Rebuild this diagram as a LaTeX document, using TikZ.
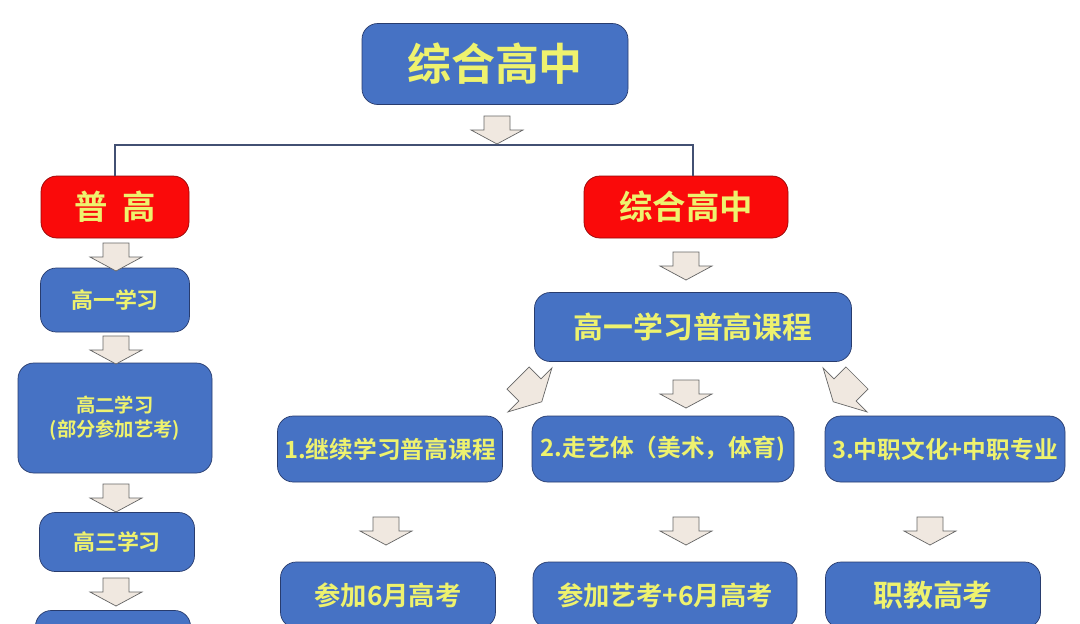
\documentclass[tikz,border=0pt]{standalone}
\usepackage{fontspec}
\newfontfamily\cjk{Noto Sans CJK SC}[BoldFont={* Bold}]
\usetikzlibrary{positioning}
\definecolor{boxblue}{RGB}{70,114,196}
\definecolor{boxline}{RGB}{40,60,110}
\definecolor{boxred}{RGB}{250,10,10}
\definecolor{txtyel}{RGB}{238,242,110}
\definecolor{arrfill}{RGB}{240,232,224}
\newcommand{\blockarrow}[4][1]{%
  \begin{scope}[shift={(#2,#3)},rotate=#4,scale=#1]
    \draw[gray!80!black,fill=arrfill] (-13,0) -- (13,0) -- (13,14) -- (26,14) -- (0,28) -- (-26,14) -- (-13,14) -- cycle;
  \end{scope}}
\tikzset{
  bluebox/.style={draw=boxline,fill=boxblue,rounded corners=9pt,text=txtyel,font=\cjk\bfseries,align=center,inner sep=0pt},
  redbox/.style={bluebox,fill=boxred,draw=boxred!60!black},
}
\begin{document}
\begin{tikzpicture}[x=0.02cm,y=-0.02cm]
\useasboundingbox (0,0) rectangle (1080,623);
\clip (0,0) rectangle (1080,623);
\fill[white] (0,0) rectangle (1080,623);

\node[bluebox,minimum width=266*0.02cm,minimum height=81*0.02cm,font=\cjk\bfseries\fontsize{25}{28}\selectfont] (top) at (495,64) {综合高中};
\node[redbox,minimum width=148*0.02cm,minimum height=62*0.02cm,font=\cjk\bfseries\fontsize{19}{22}\selectfont] (pg) at (115,207) {普\ \ 高};
\node[redbox,minimum width=204*0.02cm,minimum height=62*0.02cm,font=\cjk\bfseries\fontsize{19}{22}\selectfont] (zh) at (686,207) {综合高中};
\coordinate (zhtop) at ([xshift=7*0.02cm]zh.north);

\draw[boxline!70!gray,line width=1.5pt] (pg.north) |- (top.south |- 0,145) -| (zhtop);

% left column
\node[bluebox,minimum width=149*0.02cm,minimum height=64*0.02cm,font=\cjk\bfseries\fontsize{12.5}{15}\selectfont] (g1) at (115,300) {高一学习};
\node[bluebox,minimum width=194*0.02cm,minimum height=110*0.02cm,font=\cjk\bfseries\fontsize{11}{14}\selectfont] (g2) at (115,418) {高二学习\\(部分参加艺考)};
\node[bluebox,minimum width=155*0.02cm,minimum height=59*0.02cm,font=\cjk\bfseries\fontsize{12.5}{15}\selectfont] (g3) at (117,542) {高三学习};
\node[bluebox,minimum width=155*0.02cm,minimum height=59*0.02cm] (g4) at (113,640) {};

% right part
\node[bluebox,minimum width=317*0.02cm,minimum height=69*0.02cm,font=\cjk\bfseries\fontsize{17}{20}\selectfont] (kc) at (693,327) {高一学习普高课程};
\node[bluebox,minimum width=225*0.02cm,minimum height=66*0.02cm,font=\cjk\bfseries\fontsize{13.5}{16}\selectfont] (o1) at (390,449) {1.继续学习普高课程};
\node[bluebox,minimum width=262*0.02cm,minimum height=66*0.02cm,font=\cjk\bfseries\fontsize{13.5}{16}\selectfont] (o2) at (663,449) {2.走艺体（美术，体育)};
\node[bluebox,minimum width=240*0.02cm,minimum height=66*0.02cm,font=\cjk\bfseries\fontsize{13.5}{16}\selectfont] (o3) at (945,449) {3.中职文化+中职专业};
\node[bluebox,minimum width=215*0.02cm,minimum height=66*0.02cm,font=\cjk\bfseries\fontsize{15}{18}\selectfont] (e1) at (388,595) {参加6月高考};
\node[bluebox,minimum width=264*0.02cm,minimum height=66*0.02cm,font=\cjk\bfseries\fontsize{15}{18}\selectfont] (e2) at (665,595) {参加艺考+6月高考};
\node[bluebox,minimum width=215*0.02cm,minimum height=66*0.02cm,font=\cjk\bfseries\fontsize{17}{20}\selectfont] (e3) at (933,595) {职教高考};

% block arrows
\blockarrow{497}{116}{0}
\blockarrow{116}{243}{0}
\blockarrow{116}{336}{0}
\blockarrow{116}{484}{0}
\blockarrow{116}{578}{0}
\blockarrow{686}{252}{0}
\blockarrow{686}{380}{0}
\blockarrow{386}{517}{0}
\blockarrow{686}{517}{0}
\blockarrow{930}{517}{0}
\blockarrow[1.2]{518}{378}{45}
\blockarrow[1.2]{857}{378}{-45}
\end{tikzpicture}
\end{document}
